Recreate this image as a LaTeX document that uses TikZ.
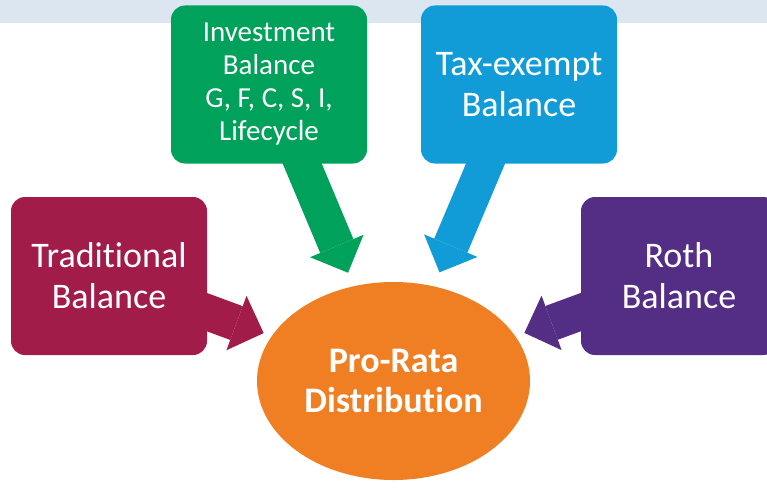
\documentclass[tikz,border=0pt]{standalone}
\usepackage{fontspec}
\setmainfont{Carlito}[Ligatures={NoCommon,NoRequired}]
\usetikzlibrary{arrows.meta,shapes.geometric,backgrounds}

\definecolor{bandgray}{RGB}{220,230,241}
\definecolor{invgreen}{RGB}{0,161,90}
\definecolor{taxblue}{RGB}{18,156,215}
\definecolor{tradred}{RGB}{162,28,74}
\definecolor{rothpurple}{RGB}{84,45,133}
\definecolor{prorange}{RGB}{240,126,35}

\tikzset{
  balbox/.style={rounded corners=14pt, % soft corners of the boxes
                 minimum width=196pt, minimum height=158pt,
                 inner sep=0pt, align=center, text=white,
                 font=\fontsize{36}{41}\selectfont},
  flowarrow/.style={line width=36pt, % fat shaft
                    -{Triangle[length=29pt,width=58pt,line width=0pt]}},
}

\begin{document}
\begin{tikzpicture}[x=1pt,y=-1pt]
\useasboundingbox (0,0) rectangle (767,487);
\clip (0,0) rectangle (767,487);

\fill[bandgray] (0,0) rectangle (767,22.7); % strip along the top

% the four balances
\node[balbox, fill=invgreen, font=\fontsize{29}{33}\selectfont]
  (inv) at (269,84.5) {Investment\\Balance\\G, F, C, S, I,\\Lifecycle};
\node[balbox, fill=taxblue] (tax) at (519,84.5) {Tax-exempt\\Balance};
\node[balbox, fill=tradred] (trad) at (109,276) {Traditional\\Balance};
\node[balbox, fill=rothpurple] (roth) at (679,276) {Roth\\Balance};

% where they all go
\node[ellipse, fill=prorange, minimum width=273pt, minimum height=198pt,
      inner sep=0pt, align=center, text=white,
      font=\bfseries\fontsize{36}{40}\selectfont]
  (prd) at (393.5,381) {Pro-Rata\\Distribution};

% arrows start at the box centres, so keep them behind the boxes
\begin{scope}[on background layer]
\draw[flowarrow, invgreen, shorten >=14.5pt] (inv.center) -- (prd);
\draw[flowarrow, taxblue, shorten >=15pt] (tax.center) -- (prd);
\draw[flowarrow, tradred, shorten >=8.5pt] (trad.center) -- (prd);
\draw[flowarrow, rothpurple, shorten >=9.5pt] (roth.center) -- (prd);
\end{scope}

\end{tikzpicture}
\end{document}
